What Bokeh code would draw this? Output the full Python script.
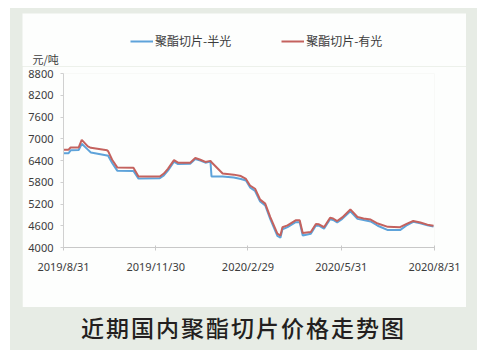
import pandas as pd
from datetime import datetime
from bokeh.plotting import figure
from bokeh.layouts import column
from bokeh.models import (Range1d, FixedTicker, Legend, LegendItem, Label, Div,
                          ColumnDataSource)
from bokeh.embed import file_html
from bokeh.resources import INLINE

# ---- data ----
dates = ["2019-08-31", "2019-09-05", "2019-09-07", "2019-09-15", "2019-09-18", "2019-09-24",
         "2019-09-27", "2019-10-13", "2019-10-14", "2019-10-18", "2019-10-23", "2019-11-08",
         "2019-11-13", "2019-12-04", "2019-12-08", "2019-12-12", "2019-12-18", "2019-12-22",
         "2020-01-03", "2020-01-08", "2020-01-13", "2020-01-18", "2020-01-23", "2020-01-24",
         "2020-02-04", "2020-02-15", "2020-02-22", "2020-02-27", "2020-03-02", "2020-03-07",
         "2020-03-12", "2020-03-17", "2020-03-22", "2020-03-29", "2020-04-01", "2020-04-03",
         "2020-04-08", "2020-04-16", "2020-04-20", "2020-04-23", "2020-05-01", "2020-05-06",
         "2020-05-09", "2020-05-14", "2020-05-20", "2020-05-23", "2020-05-27", "2020-06-01",
         "2020-06-09", "2020-06-16", "2020-06-22", "2020-06-29", "2020-07-06", "2020-07-16",
         "2020-07-28", "2020-08-04", "2020-08-10", "2020-08-17", "2020-08-24", "2020-08-30"]

semi_dull = [6600, 6600, 6680, 6690, 6860, 6700, 6620, 6540, 6530, 6330,
             6120, 6110, 5900, 5910, 5990, 6120, 6370, 6300, 6310, 6440,
             6400, 6340, 6370, 5960, 5960, 5930, 5890, 5850, 5660, 5560,
             5270, 5160, 4780, 4320, 4270, 4500, 4560, 4700, 4700, 4330,
             4380, 4610, 4600, 4520, 4780, 4760, 4690, 4790, 5000, 4790,
             4760, 4720, 4600, 4480, 4480, 4620, 4710, 4670, 4610, 4580]

bright = [6700, 6700, 6760, 6760, 6970, 6790, 6750, 6680, 6660, 6420,
          6210, 6200, 5960, 5960, 6040, 6170, 6410, 6340, 6340, 6470,
          6420, 6360, 6390, 6350, 6040, 6010, 5970, 5890, 5710, 5620,
          5320, 5210, 4840, 4380, 4330, 4560, 4610, 4750, 4750, 4400,
          4430, 4650, 4640, 4560, 4820, 4800, 4730, 4830, 5050, 4840,
          4800, 4770, 4660, 4570, 4560, 4660, 4730, 4690, 4630, 4600]

series_names = ["聚酯切片-半光", "聚酯切片-有光"]
series_colors = ["#5ea3da", "#c4625e"]
x_tick_dates = ["2019-08-31", "2019-11-30", "2020-02-29", "2020-05-31", "2020-08-31"]
x_tick_labels = ["2019/8/31", "2019/11/30", "2020/2/29", "2020/5/31", "2020/8/31"]
y_ticks = [4000, 4600, 5200, 5800, 6400, 7000, 7600, 8200, 8800]
unit_label = "元/吨"
caption = "近期国内聚酯切片价格走势图"

PANEL = "#fdfefd"
TEXT = "#3c3c3c"

src = ColumnDataSource(dict(d=pd.to_datetime(dates), a=semi_dull, b=bright))

# ---- header figure: legend + unit (series lie outside its ranges) ----
HW, HH = 444, 53
ph = figure(width=HW, height=HH, output_backend="svg", toolbar_location=None,
            x_range=Range1d(0, 1), y_range=Range1d(0, 1),
            x_axis_location=None, y_axis_location=None,
            min_border=0, margin=(5, 11, 0, 12))
ph.frame_align = False
ph.grid.visible = False
ph.outline_line_color = None
ph.background_fill_color = PANEL
ph.border_fill_color = PANEL
lr1 = ph.line("d", "a", source=src, line_color=series_colors[0], line_width=2)
lr2 = ph.line("d", "b", source=src, line_color=series_colors[1], line_width=2)
legend = Legend(items=[LegendItem(label=series_names[0], renderers=[lr1]),
                       LegendItem(label=series_names[1], renderers=[lr2])],
                location=(108, 17), orientation="horizontal",
                padding=0, margin=0, spacing=50, label_standoff=2,
                glyph_width=23, glyph_height=14, label_height=14,
                border_line_color=None, background_fill_alpha=0,
                label_text_font="Noto Sans CJK SC", label_text_font_size="12px",
                label_text_color=TEXT)
ph.add_layout(legend)
ph.add_layout(Label(x=10, y=0, x_units="screen", y_units="screen",
                    text=unit_label, text_font="Noto Sans CJK SC", text_font_size="11px",
                    text_color=TEXT, text_baseline="bottom", text_align="left"))

# ---- main figure ----
W, H = 444, 241
FL, FR, FT, FB = 41, 32, 7, 60
p = figure(width=W, height=H, x_axis_type="datetime", output_backend="svg",
           toolbar_location=None,
           x_range=Range1d(datetime(2019, 8, 31), datetime(2020, 8, 31)),
           y_range=Range1d(4000, 8800),
           min_border_left=FL, min_border_right=FR,
           min_border_top=FT, min_border_bottom=FB,
           margin=(0, 11, 0, 12))
p.frame_align = False
p.outline_line_color = None
p.grid.visible = False
p.background_fill_color = PANEL
p.border_fill_color = PANEL

p.line("d", "a", source=src, line_color=series_colors[0], line_width=2)
p.line("d", "b", source=src, line_color=series_colors[1], line_width=2)

tick_ms = [pd.Timestamp(d).value // 10**6 for d in x_tick_dates]
p.xaxis.ticker = FixedTicker(ticks=tick_ms)
p.xaxis.major_label_overrides = {t: l for t, l in zip(tick_ms, x_tick_labels)}
p.xaxis.minor_tick_line_color = None
p.xaxis.axis_line_color = "#c8c8c8"
p.xaxis.major_tick_line_color = "#c8c8c8"
p.xaxis.major_tick_in = 2
p.xaxis.major_tick_out = 3
p.xaxis.major_label_standoff = 8
p.yaxis.ticker = FixedTicker(ticks=y_ticks)
p.yaxis.minor_tick_line_color = None
p.yaxis.axis_line_color = "#d0d0d0"
p.yaxis.major_tick_line_color = "#d0d0d0"
p.yaxis.major_tick_in = 0
p.yaxis.major_tick_out = 3
p.yaxis.major_label_standoff = 7
for ax in (p.xaxis, p.yaxis):
    ax.major_label_text_font = "Noto Sans"
    ax.major_label_text_font_size = "11px"
    ax.major_label_text_color = TEXT

cap = Div(text=caption, width=467, height=43, margin=(0, 0, 0, 0),
          styles={"font-family": "'Noto Sans CJK SC'", "font-size": "23px",
                  "font-weight": "500", "letter-spacing": "2px",
                  "text-align": "center", "color": "#231f20",
                  "line-height": "40px"})

lay = column(ph, p, cap, margin=(8, 0, 0, 10), spacing=0,
             styles={"background-color": "#e7ece5"})

open("out.html", "w").write(file_html(lay, INLINE))
